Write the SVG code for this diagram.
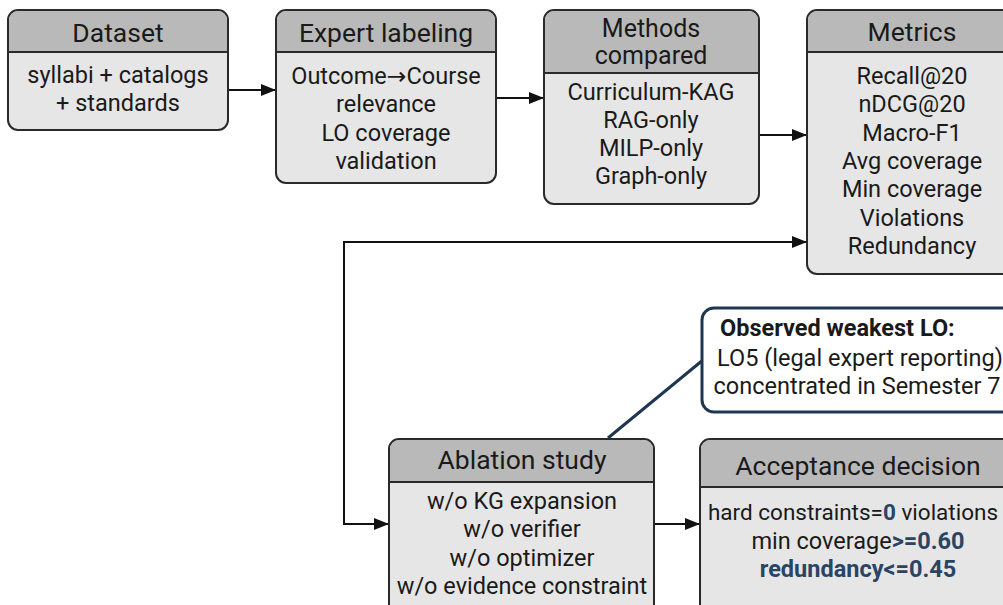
<svg xmlns="http://www.w3.org/2000/svg" width="1003" height="605" viewBox="0 0 1003 605">
<defs>
<marker id="ah" viewBox="0 0 15 12" refX="15" refY="6" markerWidth="15" markerHeight="12" markerUnits="userSpaceOnUse" orient="auto-start-reverse">
<path d="M0,0 L15,6 L0,12 Z" fill="#111"/>
</marker>
<style>
.box{fill:#e6e6e6;stroke:#2a2a2a;stroke-width:2}
.hd{fill:#b9b9b9}
.dv{stroke:#2a2a2a;stroke-width:2}
text{font-family:Roboto,"Liberation Sans",sans-serif;fill:#1a1a1a;text-anchor:middle}
.h{font-size:26.5px}
.h2{font-size:25px}
.b{font-size:23.5px}
.nv{fill:#2a4563;font-weight:bold}
.ar{font-family:"DejaVu Sans",sans-serif}
.cn{fill:none;stroke:#111;stroke-width:2}
</style>
</defs>
<rect width="1003" height="605" fill="#ffffff"/>

<g id="connectors">
<path class="cn" d="M228,90 H276" marker-end="url(#ah)"/>
<path class="cn" d="M496,98 H544" marker-end="url(#ah)"/>
<path class="cn" d="M759,135 H807" marker-end="url(#ah)"/>
<path class="cn" d="M389,524 H344 V242 H807" marker-start="url(#ah)" marker-end="url(#ah)"/>
<path class="cn" d="M654,524 H700" marker-end="url(#ah)"/>
<path d="M608,438 L703,360" fill="none" stroke="#1f3650" stroke-width="3"/>
</g>

<g id="dataset">
<rect class="box" x="8" y="10" width="220" height="120" rx="10"/>
<path class="hd" d="M18,11 H218 A9,9 0 0 1 227,20 V52 H9 V20 A9,9 0 0 1 18,11 Z"/>
<line class="dv" x1="8" y1="52" x2="228" y2="52"/>
<text class="h" x="118" y="42">Dataset</text>
<text class="b" x="118" y="83">syllabi + catalogs</text>
<text class="b" x="118" y="111">+ standards</text>
</g>

<g id="expert">
<rect class="box" x="276" y="10" width="220" height="173" rx="10"/>
<path class="hd" d="M286,11 H486 A9,9 0 0 1 495,20 V52 H277 V20 A9,9 0 0 1 286,11 Z"/>
<line class="dv" x1="276" y1="52" x2="496" y2="52"/>
<text class="h" x="386" y="42">Expert labeling</text>
<text class="b" x="386" y="84">Outcome<tspan class="ar">→</tspan>Course</text>
<text class="b" x="386" y="112">relevance</text>
<text class="b" x="386" y="141">LO coverage</text>
<text class="b" x="386" y="169">validation</text>
</g>

<g id="methods">
<rect class="box" x="544" y="10" width="215" height="194" rx="10"/>
<path class="hd" d="M554,11 H749 A9,9 0 0 1 758,20 V73 H545 V20 A9,9 0 0 1 554,11 Z"/>
<line class="dv" x1="544" y1="73" x2="759" y2="73"/>
<text class="h2" x="651" y="37">Methods</text>
<text class="h2" x="651" y="64">compared</text>
<text class="b" x="651" y="100">Curriculum-KAG</text>
<text class="b" x="651" y="128">RAG-only</text>
<text class="b" x="651" y="156">MILP-only</text>
<text class="b" x="651" y="184">Graph-only</text>
</g>

<g id="metrics">
<rect class="box" x="807" y="10" width="210" height="264" rx="10"/>
<path class="hd" d="M817,11 H1007 A9,9 0 0 1 1016,20 V52 H808 V20 A9,9 0 0 1 817,11 Z"/>
<line class="dv" x1="807" y1="52" x2="1017" y2="52"/>
<text class="h" x="912" y="41">Metrics</text>
<text class="b" x="912" y="84">Recall@20</text>
<text class="b" x="912" y="112">nDCG@20</text>
<text class="b" x="912" y="141">Macro-F1</text>
<text class="b" x="912" y="169">Avg coverage</text>
<text class="b" x="912" y="197">Min coverage</text>
<text class="b" x="912" y="226">Violations</text>
<text class="b" x="912" y="254">Redundancy</text>
</g>

<g id="observed">
<rect x="702" y="308" width="320" height="104" rx="12" fill="#ffffff" stroke="#1f3650" stroke-width="3"/>
<text x="720" y="336" style="font-size:23.5px;font-weight:bold;text-anchor:start">Observed weakest LO:</text>
<text class="b" x="860" y="366">LO5 (legal expert reporting)</text>
<text class="b" x="857" y="394">concentrated in Semester 7</text>
</g>

<g id="ablation">
<rect class="box" x="389" y="439" width="265" height="180" rx="10"/>
<path class="hd" d="M399,440 H644 A9,9 0 0 1 653,449 V482 H390 V449 A9,9 0 0 1 399,440 Z"/>
<line class="dv" x1="389" y1="482" x2="654" y2="482"/>
<text class="h" x="522" y="469">Ablation study</text>
<text class="b" x="522" y="509">w/o KG expansion</text>
<text class="b" x="522" y="537">w/o verifier</text>
<text class="b" x="522" y="566">w/o optimizer</text>
<text class="b" x="522" y="594">w/o evidence constraint</text>
</g>

<g id="acceptance">
<rect class="box" x="700" y="439" width="320" height="180" rx="10"/>
<path class="hd" d="M710,440 H1010 A9,9 0 0 1 1019,449 V487 H701 V449 A9,9 0 0 1 710,440 Z"/>
<line class="dv" x1="700" y1="487" x2="1020" y2="487"/>
<text class="h" x="858" y="475">Acceptance decision</text>
<text class="b" x="853" y="520" style="font-size:22.5px">hard constraints=<tspan class="nv">0</tspan> violations</text>
<text class="b" x="858" y="549">min coverage<tspan class="nv">&gt;=0.60</tspan></text>
<text class="b nv" x="858" y="577">redundancy&lt;=0.45</text>
</g>
</svg>
